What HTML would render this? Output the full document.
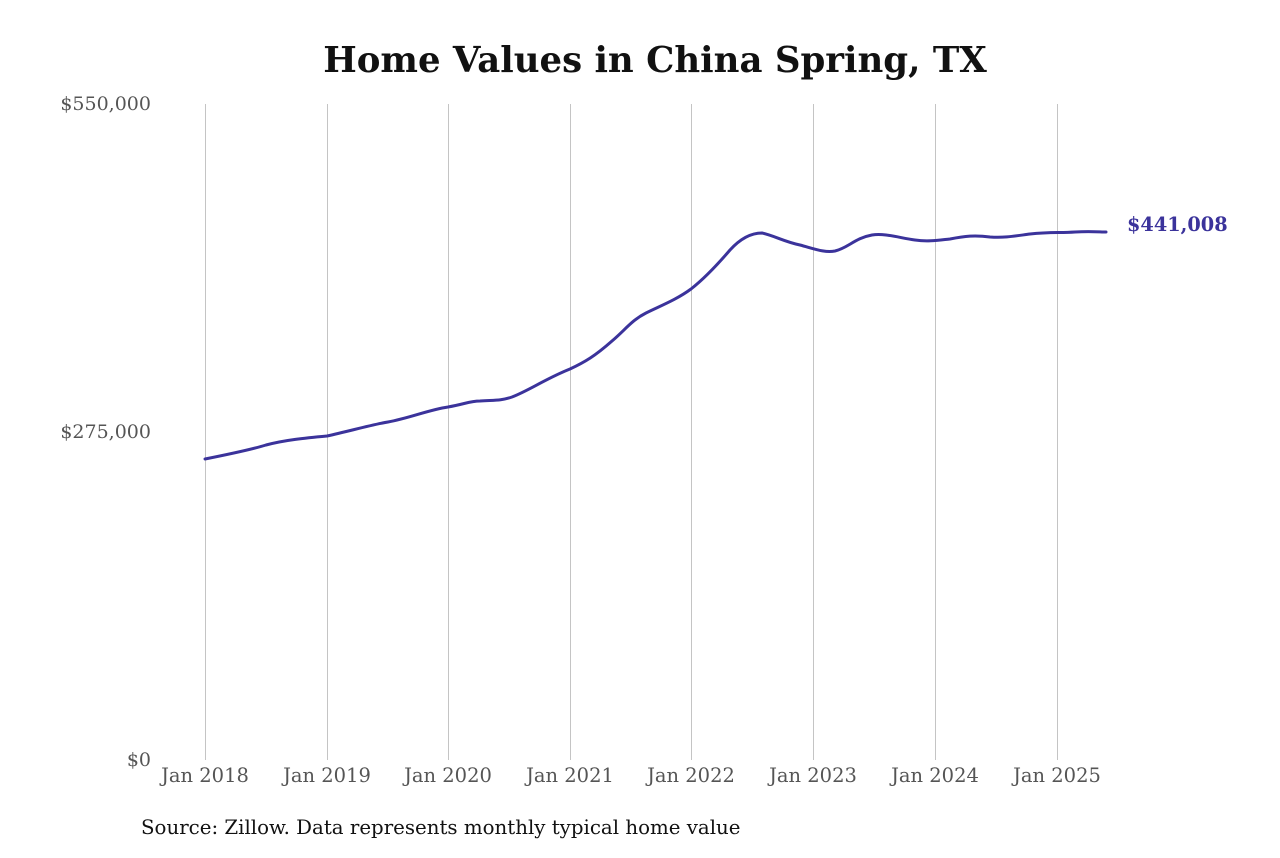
<!DOCTYPE html>
<html><head><meta charset="utf-8"><style>
body{margin:0;background:#fff;}
svg text{font-family:"DejaVu Serif","Liberation Serif",serif;}
</style></head><body>
<svg width="1280" height="853" viewBox="0 0 1280 853" xmlns="http://www.w3.org/2000/svg">
<rect width="1280" height="853" fill="#fff"/>
<text x="655" y="72" text-anchor="middle" font-size="35.5" font-weight="bold" fill="#111">Home Values in China Spring, TX</text>
<g stroke="#c4c4c4" stroke-width="1">
<line x1="205.5" y1="104" x2="205.5" y2="760"/>
<line x1="327.5" y1="104" x2="327.5" y2="760"/>
<line x1="448.5" y1="104" x2="448.5" y2="760"/>
<line x1="570.5" y1="104" x2="570.5" y2="760"/>
<line x1="691.5" y1="104" x2="691.5" y2="760"/>
<line x1="813.5" y1="104" x2="813.5" y2="760"/>
<line x1="935.5" y1="104" x2="935.5" y2="760"/>
<line x1="1057.5" y1="104" x2="1057.5" y2="760"/>
</g>
<g font-size="19" fill="#555" text-anchor="end">
<text x="151" y="110">$550,000</text>
<text x="151" y="438">$275,000</text>
<text x="151" y="766">$0</text>
</g>
<g font-size="19.5" fill="#555" text-anchor="middle">
<text x="205" y="782">Jan 2018</text>
<text x="327" y="782">Jan 2019</text>
<text x="448" y="782">Jan 2020</text>
<text x="570" y="782">Jan 2021</text>
<text x="691" y="782">Jan 2022</text>
<text x="813" y="782">Jan 2023</text>
<text x="935" y="782">Jan 2024</text>
<text x="1057" y="782">Jan 2025</text>
</g>
<path fill="none" stroke="#3b339b" stroke-width="3" stroke-linejoin="round" stroke-linecap="round"
d="M205,459 C225,455 250,450 266,445 C285,440 305,438 327,436 C350,431 370,425 388,422 C410,418 428,410 448,407 C465,404 470,401 480,401 C495,400 500,401 512,397 C530,390 545,379 570,369 C585,362 595,356 612,341 C625,330 632,320 646,313 C660,306 676,300 691,289 C705,278 718,264 730,250 C740,239 750,233 762,233 C775,236 785,242 800,245 C815,249 825,253 835,251 C848,248 855,238 872,235 C885,233 900,238 915,240 C928,242 940,240 950,239 C965,236 975,235 990,237 C1005,238 1015,236 1030,234 C1050,232 1060,233 1075,232 C1090,231 1100,232 1106,232"/>
<text x="1127" y="231" font-size="19.3" font-weight="bold" fill="#3b339b">$441,008</text>
<text x="141" y="834" font-size="19.8" fill="#111">Source: Zillow. Data represents monthly typical home value</text>
</svg>
</body></html>
